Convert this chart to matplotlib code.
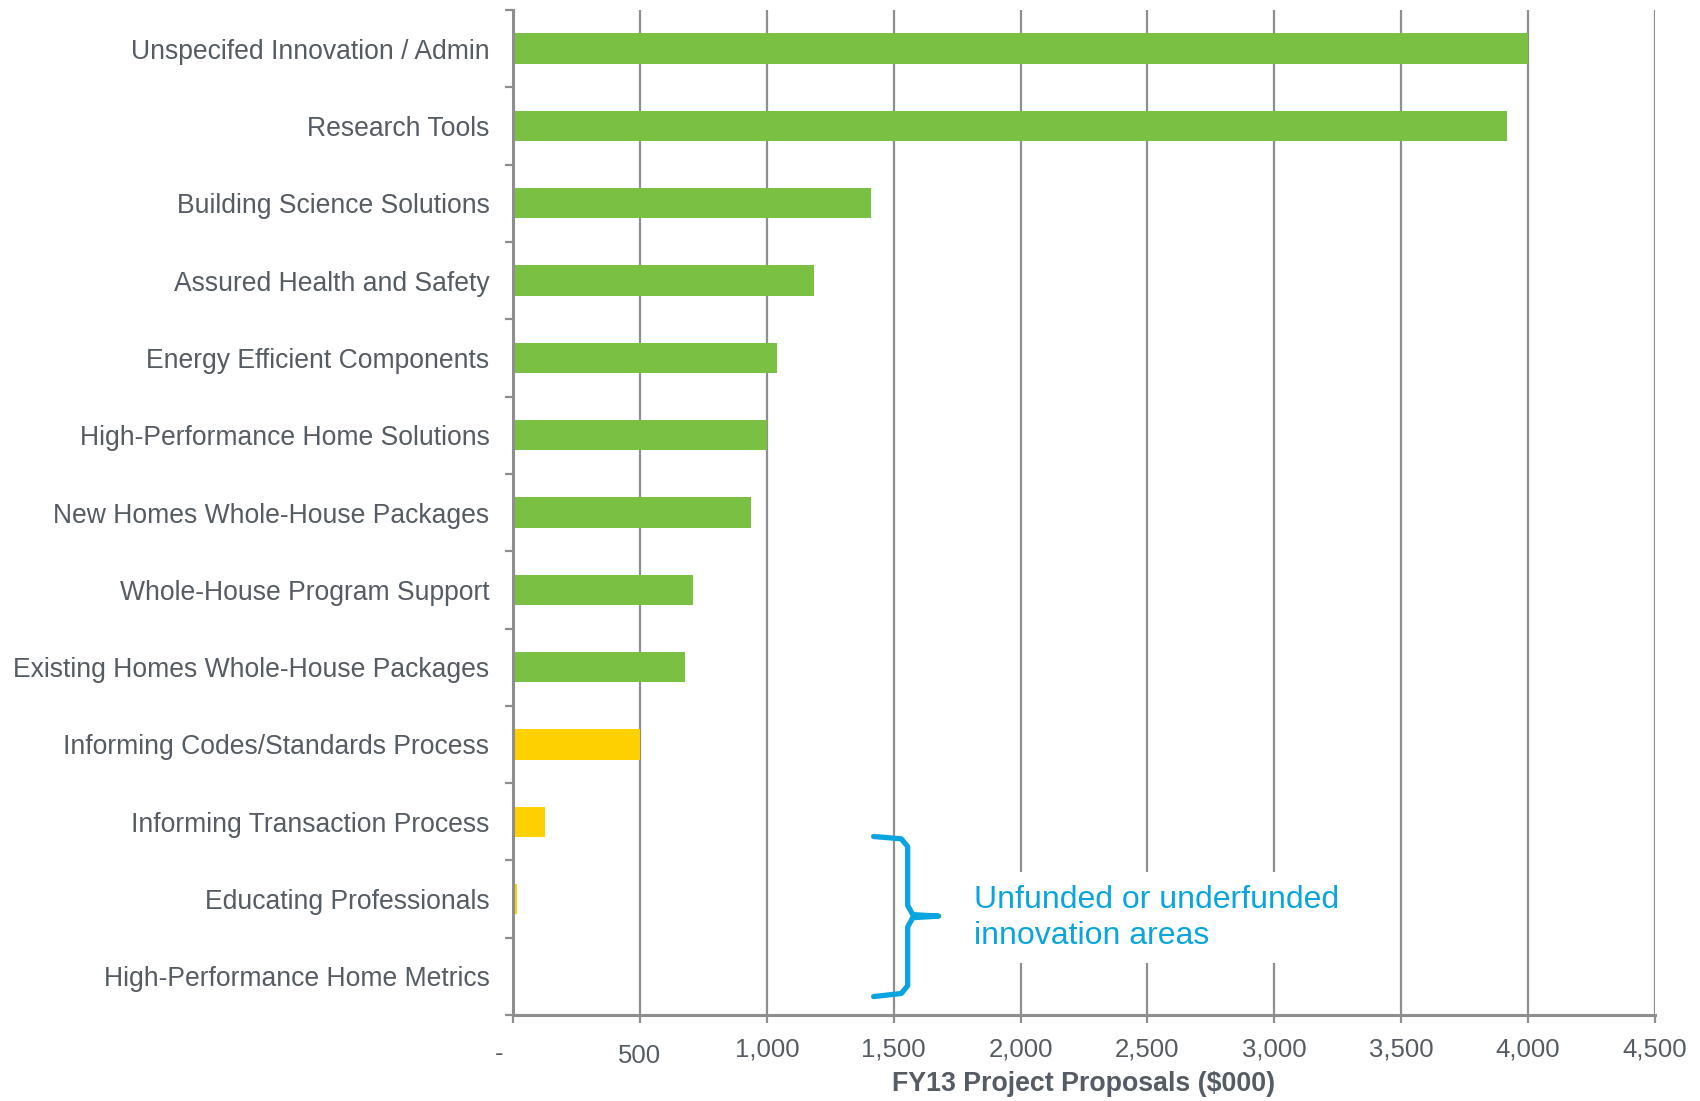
import matplotlib.pyplot as plt
from matplotlib.transforms import ScaledTranslation

### data
categories = ['Unspecifed Innovation / Admin', 'Research Tools',
              'Building Science Solutions', 'Assured Health and Safety',
              'Energy Efficient Components', 'High-Performance Home Solutions',
              'New Homes Whole-House Packages', 'Whole-House Program Support',
              'Existing Homes Whole-House Packages',
              'Informing Codes/Standards Process',
              'Informing Transaction Process', 'Educating Professionals',
              'High-Performance Home Metrics']
values = [4000, 3915, 1412, 1186, 1041, 1002, 938, 708, 678, 500, 126, 15, 0]
underfunded = [False]*9 + [True]*4
xticks = [0, 500, 1000, 1500, 2000, 2500, 3000, 3500, 4000, 4500]
xticklabels = ['-', '500', '1,000', '1,500', '2,000', '2,500', '3,000',
               '3,500', '4,000', '4,500']

green = '#7AC143'
yellow = '#FFD100'
blue = '#0AA5E1'
grey = '#8E8E8E'
txt = '#565C63'

plt.rcParams['font.family'] = ['Liberation Sans', 'DejaVu Sans']

fig = plt.figure(figsize=(17, 11.01), dpi=100)
ax = fig.add_axes([0.3018, 0.078, 0.9735 - 0.3018, 0.991 - 0.078])

ypos = list(range(len(categories)))
colors = [yellow if u else green for u in underfunded]
ax.barh(ypos, values, height=0.39, color=colors, zorder=3)

ax.set_xlim(0, 4500)
ax.set_ylim(len(categories) - 0.5, -0.5)

# vertical gridlines
ax.set_xticks(xticks)
ax.set_xticklabels(xticklabels, fontsize=18.5, color=txt)
ax.xaxis.grid(True, color=grey, linewidth=1.6, zorder=1)
ax.set_axisbelow(True)
ax.tick_params(axis='x', length=6, width=1.6, color=grey, pad=10)

# the "-" and "500" labels sit a bit off in the original
labs = ax.get_xticklabels()
labs[0].set_transform(labs[0].get_transform() + ScaledTranslation(-14/100, -5/100, fig.dpi_scale_trans))
labs[1].set_transform(labs[1].get_transform() + ScaledTranslation(0, -7/100, fig.dpi_scale_trans))

# category labels, with ticks at the category boundaries
ax.set_yticks(ypos)
ax.set_yticklabels(categories, fontsize=19.1, color=txt)
ax.tick_params(axis='y', which='major', length=0, pad=17)
ax.set_yticks([i - 0.5 for i in range(len(categories) + 1)], minor=True)
ax.tick_params(axis='y', which='minor', length=6, width=1.6, color=grey)

for s in ['top', 'right']:
    ax.spines[s].set_visible(False)
for s in ['left', 'bottom']:
    ax.spines[s].set_color(grey)
    ax.spines[s].set_linewidth(2.2)
    ax.spines[s].set_zorder(4)

ax.text(0.5, -0.0687, 'FY13 Project Proposals ($000)', fontsize=19.3,
        fontweight='bold', color=txt, ha='center', va='center',
        transform=ax.transAxes)

### brace + note for the unfunded areas
bx = [1421, 1530, 1555, 1555, 1575, 1677, 1575, 1555, 1555, 1530, 1421]
by = [10.19, 10.22, 10.32, 11.08, 11.2, 11.22, 11.24, 11.36, 12.12, 12.22, 12.26]
ax.plot(bx, by, color=blue, linewidth=3.8, solid_capstyle='round',
        solid_joinstyle='round', zorder=5, clip_on=False)
ax.text(1815, 11.24, 'Unfunded or underfunded\ninnovation areas', fontsize=23,
        color=blue, va='center', ha='left', linespacing=1.25, zorder=5,
        bbox=dict(facecolor='white', edgecolor='none', pad=9))

plt.savefig('out.png', dpi=100)
